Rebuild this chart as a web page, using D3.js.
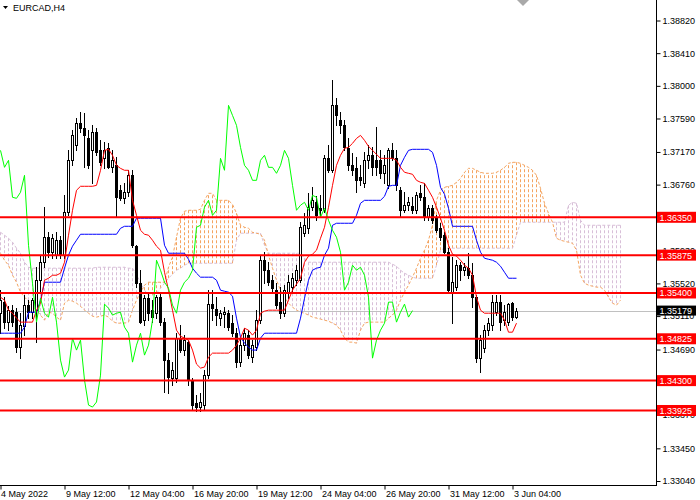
<!DOCTYPE html>
<html><head><meta charset="utf-8">
<script src="https://cdn.jsdelivr.net/npm/d3@7"></script>
<style>
html,body{margin:0;padding:0;background:#fff;}
svg{display:block;font-family:"Liberation Sans",Arial,sans-serif;}
</style></head><body>
<svg id="chart" width="700" height="500"></svg>
<script>
const symbol = "EURCAD,H4";
const xTickBars = [0,16,32,48,64,80,96,112,128];
const xTickLabels = ["4 May 2022","9 May 12:00","12 May 04:00","16 May 20:00","19 May 12:00","24 May 04:00","26 May 20:00","31 May 12:00","3 Jun 04:00"];
const yTicks = [1.38820,1.38410,1.38000,1.37590,1.37170,1.36760,1.36350,1.35930,1.35520,1.35110,1.34690,1.34280,1.33870,1.33450,1.33040];
const levels = [1.36350,1.35875,1.35400,1.34825,1.34300,1.33925];
const currentPrice = 1.35179;

const opens = [1.35146,1.35285,1.35034,1.35184,1.35159,1.34720,1.34983,1.35247,1.35159,1.35184,
1.35560,1.35786,1.36100,1.35912,1.35874,1.36062,1.35874,1.36413,1.37065,1.37253,
1.37528,1.37466,1.37340,1.37190,1.37416,1.37190,1.37090,1.37215,1.36977,1.37002,
1.36689,1.36588,1.36664,1.36877,1.35987,1.35523,1.35059,1.35334,1.35184,1.35146,
1.35347,1.35034,1.34557,1.34332,1.34332,1.34833,1.34683,1.34783,1.34307,1.34018,
1.33968,1.33993,1.34369,1.35260,1.35197,1.35084,1.35134,1.35146,1.35021,1.34895,
1.34532,1.34745,1.34871,1.34595,1.34720,1.35059,1.35811,1.35686,1.35560,1.35435,
1.35285,1.35146,1.35410,1.35473,1.35560,1.35560,1.36150,1.36212,1.36476,1.36538,
1.36463,1.36438,1.37090,1.36940,1.37755,1.37566,1.37504,1.37215,1.37002,1.36964,
1.36852,1.36776,1.37065,1.37128,1.37065,1.37065,1.36902,1.36751,1.37190,1.37090,
1.36689,1.36438,1.36501,1.36488,1.36438,1.36651,1.36601,1.36350,1.36463,1.36338,
1.36212,1.36125,1.35912,1.35410,1.35473,1.35748,1.35686,1.35711,1.35623,1.35347,
1.34582,1.34708,1.34933,1.34996,1.35159,1.35285,1.35059,1.35034,1.35272,1.35097];
const highs = [1.35435,1.35347,1.35234,1.35247,1.35209,1.35146,1.35372,1.35310,1.35334,1.35723,
1.35874,1.36476,1.36162,1.36137,1.36162,1.36112,1.36626,1.37190,1.37441,1.37591,
1.37667,1.37654,1.37441,1.37504,1.37466,1.37316,1.37291,1.37278,1.37190,1.37103,
1.36751,1.36776,1.36940,1.36940,1.35999,1.35686,1.35372,1.35397,1.35310,1.35372,
1.35385,1.35084,1.34645,1.34532,1.34895,1.34996,1.34871,1.34808,1.34332,1.34118,
1.34143,1.34432,1.35435,1.35435,1.35347,1.35184,1.35222,1.35184,1.35122,1.34958,
1.34833,1.34958,1.34933,1.34808,1.35184,1.35874,1.35912,1.35786,1.35623,1.35523,
1.35473,1.35498,1.35623,1.35648,1.35748,1.36288,1.36400,1.36651,1.36726,1.36613,
1.36626,1.37128,1.37253,1.38068,1.37842,1.37667,1.37566,1.37340,1.37153,1.37103,
1.37002,1.37165,1.37253,1.37228,1.37479,1.37190,1.37128,1.37215,1.37278,1.37190,
1.36726,1.36664,1.36601,1.36601,1.36664,1.36751,1.36776,1.36501,1.36501,1.36375,
1.36275,1.36162,1.35962,1.35849,1.35811,1.35786,1.35773,1.35899,1.35773,1.35372,
1.34871,1.34996,1.35084,1.35372,1.35372,1.35372,1.35247,1.35272,1.35285,1.35209];
const lows = [1.34895,1.34958,1.34933,1.34983,1.34658,1.34582,1.34871,1.35084,1.35084,1.34783,
1.35397,1.35723,1.35849,1.35836,1.35836,1.35836,1.35836,1.36375,1.37002,1.37190,
1.37416,1.36977,1.36964,1.36776,1.37128,1.37002,1.36964,1.36964,1.36915,1.36350,
1.36563,1.36526,1.36613,1.35974,1.35473,1.35021,1.34996,1.35059,1.35034,1.35084,
1.34996,1.34156,1.34143,1.34244,1.34282,1.34658,1.34620,1.34244,1.33930,1.33918,
1.33918,1.33930,1.34332,1.35059,1.34996,1.34996,1.34971,1.34933,1.34858,1.34470,
1.34482,1.34683,1.34582,1.34532,1.34683,1.35021,1.35523,1.35498,1.35410,1.35209,
1.35084,1.35109,1.35334,1.35397,1.35498,1.35535,1.36112,1.36150,1.36438,1.36313,
1.36375,1.36413,1.36915,1.36915,1.37504,1.37403,1.37190,1.36940,1.36877,1.36664,
1.36751,1.36726,1.36964,1.36877,1.36877,1.36839,1.36776,1.36714,1.37065,1.36689,
1.36350,1.36413,1.36438,1.36400,1.36400,1.36563,1.36313,1.36313,1.36275,1.36162,
1.36062,1.35899,1.35410,1.35021,1.35435,1.35560,1.35623,1.35585,1.35222,1.34532,
1.34407,1.34658,1.34871,1.34933,1.35122,1.34933,1.34996,1.34996,1.35059,1.35084];
const closes = [1.35310,1.35034,1.35184,1.35034,1.34720,1.34996,1.35247,1.35159,1.35310,1.35560,
1.35786,1.36100,1.35912,1.36087,1.36062,1.35874,1.36413,1.37065,1.37378,1.37528,
1.37466,1.37378,1.37002,1.37416,1.37165,1.37040,1.37190,1.36977,1.37065,1.36601,
1.36588,1.36664,1.36877,1.35999,1.35523,1.35034,1.35334,1.35146,1.35097,1.35347,
1.35034,1.34557,1.34344,1.34432,1.34833,1.34683,1.34808,1.34307,1.33993,1.33968,
1.34031,1.34369,1.35260,1.35209,1.35122,1.35146,1.35159,1.34971,1.34895,1.34532,
1.34745,1.34895,1.34620,1.34745,1.35059,1.35811,1.35686,1.35535,1.35460,1.35247,
1.35146,1.35435,1.35535,1.35585,1.35686,1.36225,1.36250,1.36476,1.36563,1.36375,
1.36438,1.37090,1.36940,1.37755,1.37629,1.37504,1.37228,1.37002,1.36940,1.36814,
1.36814,1.37065,1.37128,1.36977,1.36977,1.36902,1.37002,1.37190,1.37090,1.36751,
1.36438,1.36501,1.36538,1.36438,1.36626,1.36601,1.36350,1.36463,1.36313,1.36187,
1.36100,1.35912,1.35435,1.35535,1.35748,1.35686,1.35723,1.35623,1.35347,1.34582,
1.34808,1.34933,1.35021,1.35285,1.35285,1.35034,1.35159,1.35260,1.35097,1.35179];

const tenkan = [1.35347,1.35310,1.35184,1.35146,1.35084,1.35034,1.35034,1.35034,1.35034,1.35184,
1.35272,1.35560,1.35585,1.35623,1.35623,1.35648,1.35786,1.36125,1.36438,1.36689,
1.36739,1.36739,1.36739,1.36739,1.36751,1.36940,1.37190,1.37203,1.37128,1.37002,
1.36964,1.36940,1.36940,1.36563,1.36375,1.36187,1.36137,1.36125,1.36062,1.35987,
1.35937,1.35660,1.35435,1.35184,1.34933,1.34858,1.34833,1.34808,1.34683,1.34507,
1.34457,1.34470,1.34595,1.34645,1.34645,1.34645,1.34645,1.34645,1.34683,1.34745,
1.34833,1.34958,1.34933,1.34871,1.34933,1.35146,1.35172,1.35184,1.35184,1.35184,
1.35184,1.35184,1.35310,1.35435,1.35510,1.35585,1.35786,1.35862,1.35887,1.35937,
1.36087,1.36225,1.36476,1.36751,1.37002,1.37128,1.37215,1.37228,1.37278,1.37340,
1.37378,1.37316,1.37240,1.37190,1.37140,1.37090,1.37090,1.37090,1.37090,1.37065,
1.36977,1.36915,1.36902,1.36890,1.36814,1.36789,1.36776,1.36689,1.36601,1.36476,
1.36338,1.36187,1.35999,1.35887,1.35862,1.35811,1.35748,1.35711,1.35623,1.35347,
1.35184,1.35146,1.35146,1.35146,1.35146,1.35146,1.35059,1.34908,1.34908,1.35021];
const kijun = [1.34895,1.34895,1.34895,1.34895,1.34895,1.34895,1.34971,1.35159,1.35159,1.35159,
1.35310,1.35535,1.35535,1.35535,1.35535,1.35535,1.35711,1.35874,1.35987,1.36062,
1.36137,1.36137,1.36137,1.36137,1.36137,1.36137,1.36137,1.36137,1.36137,1.36137,
1.36212,1.36237,1.36237,1.36237,1.36338,1.36338,1.36338,1.36338,1.36338,1.36338,
1.36338,1.35999,1.35899,1.35899,1.35899,1.35899,1.35899,1.35823,1.35711,1.35648,
1.35598,1.35598,1.35598,1.35598,1.35560,1.35435,1.35422,1.35410,1.35360,1.35084,
1.34846,1.34770,1.34720,1.34683,1.34683,1.34833,1.34895,1.34895,1.34895,1.34895,
1.34895,1.34895,1.34895,1.34895,1.34895,1.35084,1.35334,1.35560,1.35686,1.35711,
1.35723,1.35874,1.35962,1.36250,1.36275,1.36275,1.36275,1.36275,1.36275,1.36375,
1.36526,1.36563,1.36563,1.36563,1.36563,1.36563,1.36613,1.36739,1.36751,1.36751,
1.37002,1.37103,1.37190,1.37203,1.37203,1.37203,1.37203,1.37203,1.37165,1.37002,
1.36726,1.36639,1.36463,1.36237,1.36237,1.36237,1.36237,1.36237,1.36237,1.36062,
1.35912,1.35836,1.35823,1.35811,1.35786,1.35736,1.35660,1.35585,1.35585,1.35585];
const spanA = [1.35899,1.35811,1.35748,1.35623,1.35535,1.35410,1.35347,1.35297,1.35234,1.35184,
1.35122,1.35059,1.35159,1.35146,1.35097,1.35059,1.35272,1.35310,1.35297,1.35272,
1.35234,1.35184,1.35146,1.35109,1.35097,1.35109,1.35122,1.35097,1.35046,1.35021,
1.35021,1.35021,1.35034,1.35184,1.35310,1.35410,1.35498,1.35535,1.35535,1.35535,
1.35535,1.35535,1.35723,1.35849,1.36100,1.36338,1.36426,1.36438,1.36438,1.36438,
1.36451,1.36563,1.36651,1.36651,1.36563,1.36563,1.36563,1.36563,1.36513,1.36400,
1.36250,1.36225,1.36212,1.36162,1.36150,1.36137,1.36062,1.35874,1.35711,1.35560,
1.35435,1.35347,1.35272,1.35222,1.35184,1.35159,1.35146,1.35122,1.35097,1.35084,
1.35072,1.35059,1.35046,1.35021,1.34996,1.34933,1.34833,1.34783,1.34783,1.34770,
1.34933,1.35021,1.35034,1.35034,1.35034,1.35034,1.35034,1.35084,1.35122,1.35184,
1.35310,1.35410,1.35498,1.35598,1.35711,1.35836,1.35937,1.36062,1.36250,1.36563,
1.36689,1.36726,1.36739,1.36751,1.36789,1.36839,1.36915,1.36964,1.36964,1.36940,
1.36915,1.36902,1.36902,1.36902,1.36915,1.36940,1.36977,1.37027,1.37040,1.37040,
1.37027,1.37002,1.36977,1.36940,1.36877,1.36714,1.36526,1.36400,1.36288,1.36087,
1.36062,1.36049,1.36037,1.36024,1.35937,1.35623,1.35523,1.35498,1.35485,1.35473,
1.35473,1.35435,1.35347,1.35272,1.35247,1.35310];
const spanB = [1.36162,1.36125,1.36087,1.36037,1.35962,1.35899,1.35786,1.35723,1.35711,1.35711,
1.35711,1.35711,1.35711,1.35711,1.35711,1.35711,1.35711,1.35711,1.35711,1.35711,
1.35711,1.35711,1.35711,1.35711,1.35723,1.35723,1.35723,1.35723,1.35723,1.35723,
1.35723,1.35723,1.35711,1.35711,1.35623,1.35535,1.35435,1.35372,1.35372,1.35397,
1.35460,1.35523,1.35585,1.35636,1.35686,1.35711,1.35748,1.35773,1.35773,1.35773,
1.35773,1.35773,1.35773,1.35773,1.35773,1.35773,1.35773,1.35773,1.35773,1.36062,
1.36150,1.36150,1.36150,1.36150,1.36150,1.36150,1.35999,1.35899,1.35899,1.35899,
1.35899,1.35899,1.35899,1.35899,1.35899,1.35899,1.35836,1.35786,1.35786,1.35786,
1.35786,1.35786,1.35786,1.35786,1.35786,1.35786,1.35786,1.35786,1.35786,1.35786,
1.35786,1.35786,1.35786,1.35786,1.35786,1.35786,1.35786,1.35786,1.35761,1.35736,
1.35686,1.35648,1.35623,1.35598,1.35585,1.35585,1.35585,1.35585,1.35585,1.35748,
1.35937,1.35962,1.35962,1.35962,1.35962,1.35962,1.35962,1.35962,1.35962,1.35962,
1.35962,1.35962,1.35962,1.35962,1.35962,1.35962,1.35962,1.35962,1.35962,1.36125,
1.36288,1.36288,1.36288,1.36288,1.36288,1.36288,1.36288,1.36288,1.36288,1.36288,
1.36288,1.36288,1.36501,1.36538,1.36526,1.36313,1.36250,1.36250,1.36250,1.36250,
1.36250,1.36250,1.36250,1.36250,1.36250,1.36250];
const chikouShift = 26;

const W = 700, H = 500, plotR = 656, plotB = 485;
const svg = d3.select('#chart');
svg.append('rect').attr('width', W).attr('height', H).attr('fill', '#fff');

const x = d3.scaleLinear().domain([0, 164]).range([0, 656]);
const y = d3.scaleLinear().domain([1.3304, 1.3882]).range([481, 20.5]);
const px = i => x(i) + 0.5;

svg.append('defs').append('clipPath').attr('id', 'clip')
  .append('rect').attr('x', 0).attr('y', 0).attr('width', plotR).attr('height', plotB);
const plot = svg.append('g').attr('clip-path', 'url(#clip)');

const SANDY = '#F4A460', THISTLE = '#D8BFD8';
// Ichimoku cloud hatch
plot.append('g').selectAll('line').data(d3.range(spanA.length)).join('line')
  .attr('x1', px).attr('x2', px)
  .attr('y1', i => y(spanB[i])).attr('y2', i => y(spanA[i]))
  .attr('stroke', i => spanA[i] >= spanB[i] ? SANDY : THISTLE)
  .attr('stroke-width', 1).attr('stroke-dasharray', '3,2');
const line = d3.line().x((d, i) => px(i)).y(d => y(d));
plot.append('path').attr('d', line(spanB)).attr('fill', 'none')
  .attr('stroke', THISTLE).attr('stroke-dasharray', '3,2');
plot.append('path').attr('d', line(spanA)).attr('fill', 'none')
  .attr('stroke', SANDY).attr('stroke-dasharray', '3,2');

// current price line
plot.append('line').attr('x1', 0).attr('x2', plotR)
  .attr('y1', Math.round(y(currentPrice)) + 0.5).attr('y2', Math.round(y(currentPrice)) + 0.5)
  .attr('stroke', '#C0C0C0');

// candles
const idx = d3.range(opens.length);
const cg = plot.append('g').attr('shape-rendering', 'crispEdges');
cg.selectAll('line').data(idx).join('line')
  .attr('x1', px).attr('x2', px)
  .attr('y1', i => Math.round(y(highs[i]))).attr('y2', i => Math.round(y(lows[i])) + 1)
  .attr('stroke', '#000');
cg.selectAll('rect').data(idx).join('rect')
  .attr('x', i => x(i) - 0.5).attr('width', 2)
  .attr('y', i => Math.round(y(Math.max(opens[i], closes[i]))) + 0.5)
  .attr('height', i => Math.max(0, Math.round(y(Math.min(opens[i], closes[i]))) - Math.round(y(Math.max(opens[i], closes[i])))))
  .attr('fill', i => closes[i] >= opens[i] ? '#fff' : '#000')
  .attr('stroke', '#000').attr('stroke-width', 1);

// Tenkan, Kijun, Chikou
plot.append('path').attr('d', line(kijun)).attr('fill', 'none').attr('stroke', '#0000FF');
plot.append('path').attr('d', line(tenkan)).attr('fill', 'none').attr('stroke', '#FF0000');
const chikou = closes.slice(chikouShift);
plot.append('path').attr('d', line(chikou)).attr('fill', 'none').attr('stroke', '#00FF00');

// horizontal levels
plot.append('g').selectAll('line').data(levels).join('line')
  .attr('x1', 0).attr('x2', plotR)
  .attr('y1', d => y(d)).attr('y2', d => y(d))
  .attr('stroke', '#FF0000').attr('stroke-width', 2);

// axes (labels fully covered by a level box are not drawn, as in the reference)
const covered = t => levels.some(l => Math.abs(y(l) - y(t)) < 2.5) || Math.abs(y(currentPrice) - y(t)) < 2.5;
const yAxis = svg.append('g').attr('transform', `translate(${plotR + 0.5},0)`)
  .call(d3.axisRight(y).tickValues(yTicks).tickSize(4).tickFormat(d => covered(d) ? '' : d3.format('.5f')(d)));
yAxis.select('.domain').remove();
yAxis.selectAll('text').attr('x', 6).attr('font-size', 9).attr('font-family', '"Liberation Sans",Arial,sans-serif').attr('fill', '#000');
yAxis.selectAll('line').attr('stroke', '#000');

const xAxis = svg.append('g').attr('transform', `translate(0.5,${plotB + 0.5})`)
  .call(d3.axisBottom(x).tickValues(xTickBars).tickSize(4).tickFormat((d, i) => xTickLabels[i]));
xAxis.select('.domain').remove();
xAxis.selectAll('text').attr('text-anchor', 'start').attr('x', (d, i) => i === 0 ? 0 : 1)
  .attr('y', 11.5).attr('dy', 0).attr('font-size', 9).attr('font-family', '"Liberation Sans",Arial,sans-serif').attr('fill', '#000');
xAxis.selectAll('line').attr('stroke', '#000');

svg.append('line').attr('x1', plotR + 0.5).attr('x2', plotR + 0.5).attr('y1', 0).attr('y2', plotB + 1).attr('stroke', '#000');
svg.append('line').attr('x1', 0).attr('x2', plotR + 1).attr('y1', plotB + 0.5).attr('y2', plotB + 0.5).attr('stroke', '#000');

// level labels
const lab = svg.append('g');
levels.forEach(v => {
  const yy = y(v);
  lab.append('rect').attr('x', 657).attr('y', yy - 5.5).attr('width', 39).attr('height', 11).attr('fill', '#FF0000');
  lab.append('text').attr('x', 659.5).attr('y', yy + 3.5).attr('font-size', 9).attr('fill', '#fff').text(d3.format('.5f')(v));
});
{
  const yy = y(currentPrice);
  lab.append('rect').attr('x', 657).attr('y', yy - 5).attr('width', 39).attr('height', 10).attr('fill', '#000');
  lab.append('text').attr('x', 659.5).attr('y', yy + 3.5).attr('font-size', 9).attr('fill', '#fff').text(d3.format('.5f')(currentPrice));
}

// title
svg.append('path').attr('d', 'M3,6L8,6L5.5,9Z').attr('fill', '#000');
svg.append('text').attr('x', 13).attr('y', 11).attr('font-size', 9).attr('fill', '#000').text(symbol);
// chart shift marker
svg.append('path').attr('d', 'M517,0L529,0L523,6Z').attr('fill', '#A9A9A9');
</script>
</body></html>
